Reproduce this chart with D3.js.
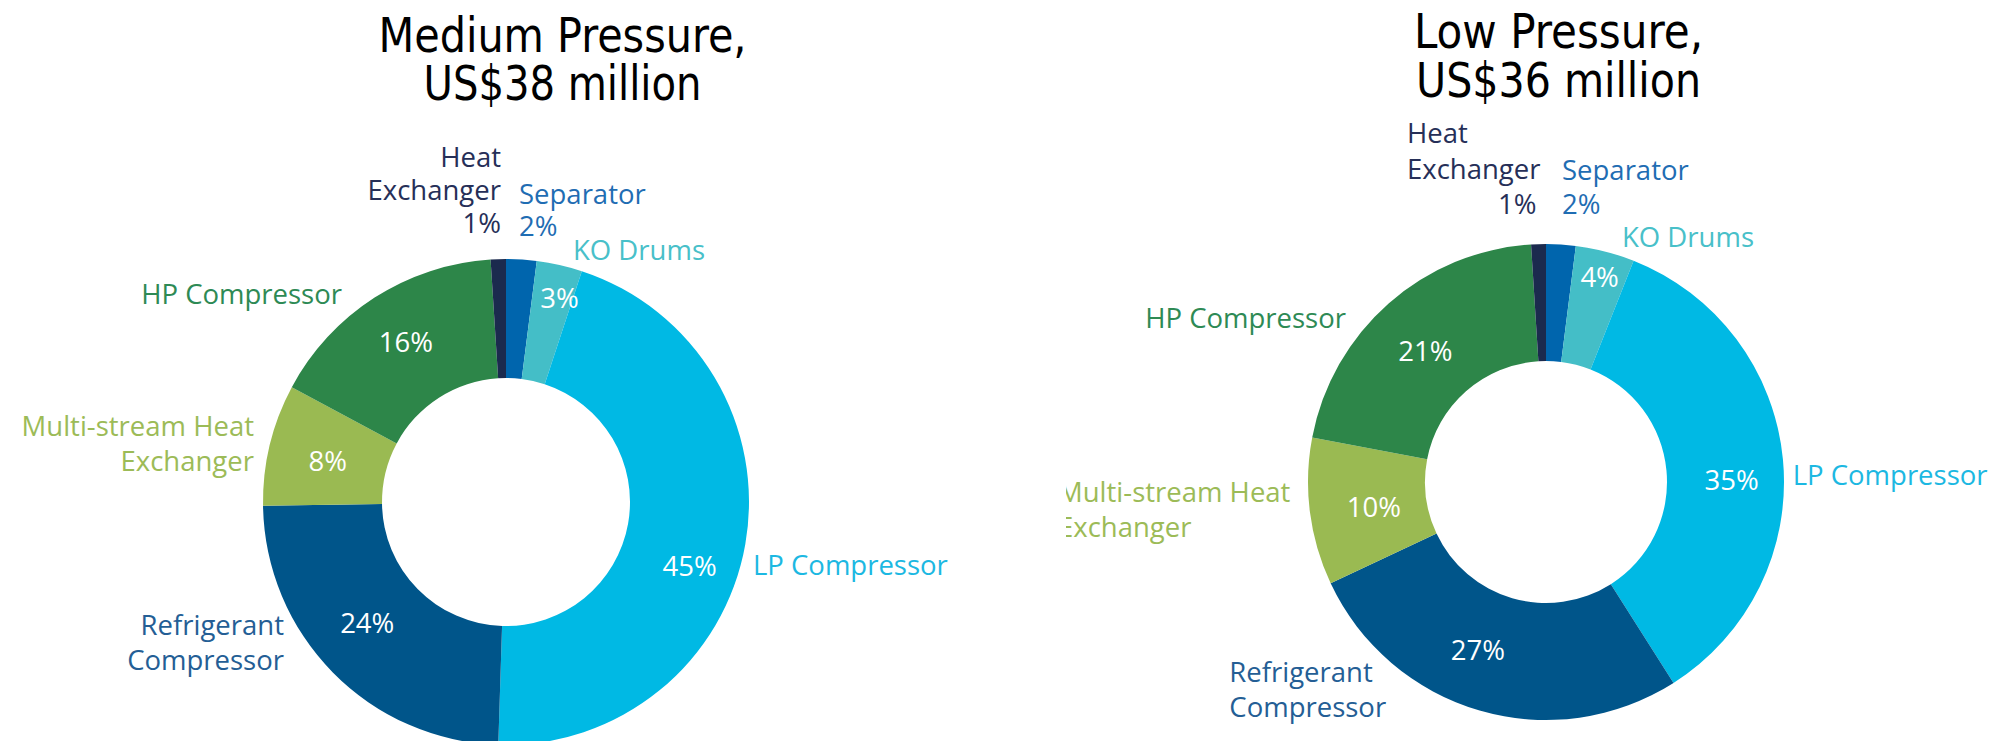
<!DOCTYPE html>
<html>
<head>
<meta charset="utf-8">
<script src="https://cdn.jsdelivr.net/npm/d3@7"></script>
<style>
  html, body { margin: 0; padding: 0; background: #ffffff; }
  svg { display: block; }
</style>
</head>
<body>
<svg id="chart" width="1991" height="741"></svg>
<script>
// ---- data ----
const categories = [
  "Separator", "KO Drums", "LP Compressor", "Refrigerant Compressor",
  "Multi-stream Heat Exchanger", "HP Compressor", "Heat Exchanger"
];
// how each category name wraps in its outside label
const categoryLines = [
  ["Separator"], ["KO Drums"], ["LP Compressor"], ["Refrigerant", "Compressor"],
  ["Multi-stream Heat", "Exchanger"], ["HP Compressor"], ["Heat", "Exchanger"]
];
const mediumValues = [2, 3, 45, 24, 8, 16, 1];
const lowValues    = [2, 4, 35, 27, 10, 21, 1];
const mediumTitle = ["Medium Pressure,", "US$38 million"];
const lowTitle    = ["Low Pressure,", "US$36 million"];
// thin slices carry their percentage in the outside label instead of the ring
const pctOutside = [true, false, false, false, false, false, true];

// ---- styles ----
const sliceColors = ["#0065ad", "#44bec7", "#00b9e4", "#00558a", "#9aba52", "#2d8649", "#1b2a4e"];
const labelColors = ["#1f6db3", "#48c0c9", "#1cb8e2", "#245e95", "#9cbb57", "#2e8a55", "#262f58"];

// ---- layout of the two donuts (label offsets are relative to each donut centre) ----
const panels = [
  {
    values: mediumValues, title: mediumTitle,
    cx: 506, cy: 502, rOuter: 243, rInner: 124,
    clip: [0, 1066],
    titleX: 562.5, titleY: [51.5, 100], titleW: [368, 278],
    outer: [
      { dx: 13,   dy: -298.5, anchor: "start", lh: 32.5 },
      { dx: 67,   dy: -242.5, anchor: "start" },
      { dx: 247,  dy: 73,     anchor: "start" },
      { dx: -222, dy: 133,    anchor: "end", lh: 35 },
      { dx: -252, dy: -66.3,  anchor: "end", lh: 35 },
      { dx: -164, dy: -198,   anchor: "end" },
      { dx: -5,   dy: -335,   anchor: "end", lh: 33 }
    ],
    nudge: [[0, 0], [13, -25], [3, 33], [-8, -7], [0, 3], [-1, -5], [0, 0]]
  },
  {
    values: lowValues, title: lowTitle,
    cx: 1546, cy: 482, rOuter: 238, rInner: 121,
    clip: [1066, 1991],
    titleX: 1558.5, titleY: [48, 97], titleW: [289, 285],
    outer: [
      { dx: 16,     dy: -302,   anchor: "start", lh: 34 },
      { dx: 76,     dy: -234.7, anchor: "start" },
      { dx: 246.7,  dy: 3,      anchor: "start" },
      { dx: -316.7, dy: 199.7,  anchor: "start", lh: 35 },
      { dx: -488,   dy: 19.7,   anchor: "start", lh: 35 },
      { dx: -200,   dy: -154.3, anchor: "end" },
      { dx: -139,   dy: -338.7, anchor: "start", lh: 35.3, pctAnchor: "end", pctDx: -4 }
    ],
    nudge: [[0, 0], [9, -31], [7, 15], [-18, -4], [6, 3], [-2, 4], [0, 0]]
  }
];

const labelFont = "'Open Sans', 'Noto Sans', sans-serif";
const labelSize = 27.5;
const titleFont = "'DejaVu Sans Condensed', 'DejaVu Sans', sans-serif";
const titleSize = 48;

const svg = d3.select("#chart");
const defs = svg.append("defs");

const pie = d3.pie().sort(null).value(d => d).startAngle(0).endAngle(2 * Math.PI);
const pctFmt = d => d + "%";

panels.forEach((p, pi) => {
  const clipId = "panel-clip-" + pi;
  defs.append("clipPath").attr("id", clipId)
    .append("rect")
    .attr("x", p.clip[0]).attr("y", 0)
    .attr("width", p.clip[1] - p.clip[0]).attr("height", 741);

  const panel = svg.append("g").attr("clip-path", `url(#${clipId})`);

  // title
  const title = panel.append("text")
    .attr("font-family", titleFont)
    .attr("font-size", titleSize)
    .attr("fill", "#000")
    .attr("text-anchor", "middle");
  p.title.forEach((line, i) => {
    title.append("tspan")
      .attr("x", p.titleX)
      .attr("y", p.titleY[i])
      .attr("textLength", p.titleW[i])
      .attr("lengthAdjust", "spacingAndGlyphs")
      .text(line);
  });

  const g = panel.append("g").attr("transform", `translate(${p.cx},${p.cy})`);
  const arcs = pie(p.values);

  const arc = d3.arc().innerRadius(p.rInner).outerRadius(p.rOuter);
  const midR = (p.rInner + p.rOuter) / 2;
  const labelArc = d3.arc().innerRadius(midR).outerRadius(midR);

  // ring slices
  g.selectAll("path.slice")
    .data(arcs)
    .join("path")
    .attr("class", "slice")
    .attr("d", arc)
    .attr("fill", (d, i) => sliceColors[i]);

  // percentages inside the ring
  g.selectAll("text.pct")
    .data(arcs.filter((d, i) => !pctOutside[i]))
    .join("text")
    .attr("class", "pct")
    .attr("font-family", labelFont)
    .attr("font-size", labelSize)
    .attr("fill", "#ffffff")
    .attr("text-anchor", "middle")
    .attr("dy", "0.35em")
    .attr("x", d => labelArc.centroid(d)[0] + p.nudge[d.index][0])
    .attr("y", d => labelArc.centroid(d)[1] + p.nudge[d.index][1])
    .text(d => pctFmt(d.data));

  // category names outside the ring
  arcs.forEach((d, i) => {
    const L = p.outer[i];
    const lh = L.lh || 35;
    const t = g.append("text")
      .attr("class", "cat")
      .attr("font-family", labelFont)
      .attr("font-size", labelSize)
      .attr("fill", labelColors[i])
      .attr("text-anchor", L.anchor);
    categoryLines[i].forEach((line, k) => {
      t.append("tspan").attr("x", L.dx).attr("y", L.dy + k * lh).text(line);
    });
    if (pctOutside[i]) {
      const k = categoryLines[i].length;
      const pt = t.append("tspan")
        .attr("y", L.dy + k * lh)
        .text(pctFmt(d.data));
      if (L.pctAnchor) {
        pt.attr("x", L.dx + L.pctDx).attr("text-anchor", L.pctAnchor);
        // end-anchored percentage sits under the right edge of the name block
        const nameW = d3.max(t.selectAll("tspan").nodes().slice(0, k), n => n.getComputedTextLength());
        pt.attr("x", L.dx + nameW + L.pctDx);
      } else {
        pt.attr("x", L.dx);
      }
    }
  });
});
</script>
</body>
</html>
